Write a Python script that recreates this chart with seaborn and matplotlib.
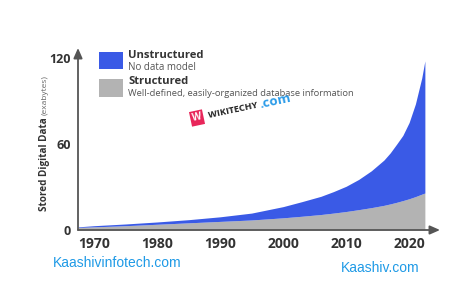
import matplotlib
matplotlib.use("Agg")
import matplotlib.pyplot as plt
from matplotlib.patches import Rectangle
import seaborn as sns
import pandas as pd

# ---- data ----
years = [1967.5, 1970, 1975, 1980, 1985, 1990, 1995, 2000, 2003, 2006,
         2008, 2010, 2012, 2014, 2016, 2017, 2018, 2019, 2020, 2021,
         2022, 2022.5]
structured = [1.8, 2.2, 3.0, 4.0, 5.0, 6.0, 7.0, 8.5, 9.6, 10.8,
              11.8, 12.9, 14.2, 15.6, 17.2, 18.2, 19.3, 20.5, 21.8, 23.3,
              25.0, 25.8]
total = [2.2, 3.0, 4.2, 5.6, 7.2, 9.2, 11.8, 16.3, 19.8, 23.5,
         26.8, 30.5, 35.3, 41.3, 48.8, 53.8, 59.8, 66.0, 75.0, 88.0,
         106.0, 118.0]
unstructured = [t - s for t, s in zip(total, structured)]
x_ticks = [1970, 1980, 1990, 2000, 2010, 2020]
y_ticks = [0, 60, 120]

df = pd.DataFrame({"year": years, "Structured": structured,
                   "Unstructured": unstructured})

BLUE = "#3a5ae6"
GRAY = "#b3b3b3"
DARK = "#333333"
AXIS = "#555555"

sns.set_theme(style="white")
plt.rcParams["font.family"] = ["Open Sans", "DejaVu Sans"]

W, H = 474, 307
fig = plt.figure(figsize=(W / 100, H / 100), dpi=100)

def fx(x):
    return x / W

def fy(y):
    return 1 - y / H

ax = fig.add_axes([fx(78), fy(230), fx(440) - fx(78), fy(48) - fy(230)])
ax.stackplot(df["year"], df["Structured"], df["Unstructured"],
             colors=[GRAY, BLUE], linewidth=0, antialiased=True)
sns.despine(ax=ax, left=True, bottom=True)
ax.set_xlim(1967.46, 2024.9)
ax.set_ylim(0, 127)
ax.set_xticks(x_ticks)
ax.set_xticklabels([str(v) for v in x_ticks], fontsize=10, fontweight="bold",
                   color=DARK)
ax.set_yticks(y_ticks)
ax.set_yticklabels([str(v) for v in y_ticks], fontsize=9, fontweight="bold",
                   color=DARK)
ax.tick_params(axis="x", length=0, pad=5)
ax.tick_params(axis="y", length=0, pad=5)
ax.grid(False)
ax.set_facecolor("none")

# axes with arrow heads
ax.annotate("", xy=(0, 1), xytext=(0, 0), xycoords="axes fraction",
            arrowprops=dict(arrowstyle="-|>,head_length=0.5,head_width=0.22",
                            color=AXIS, lw=1.3, shrinkA=0, shrinkB=0))
ax.annotate("", xy=(1, 0), xytext=(0, 0), xycoords="axes fraction",
            arrowprops=dict(arrowstyle="-|>,head_length=0.5,head_width=0.22",
                            color=AXIS, lw=1.3, shrinkA=0, shrinkB=0))

# y-axis label in two parts, second placed right after the first
t1 = fig.text(fx(45), fy(211), "Stored Digital Data", rotation=90,
              ha="center", va="bottom", fontsize=7.1, fontweight="bold",
              color=DARK)
fig.canvas.draw()
bb = t1.get_window_extent(renderer=fig.canvas.get_renderer())
top_px = bb.y1 / fig.dpi / fig.get_figheight()
fig.text(fx(45.3), top_px + 0.006, "(exabytes)", rotation=90, ha="center",
         va="bottom", fontsize=6.0, color="#666666")

# legend
fig.patches.append(Rectangle((fx(99), fy(69)), fx(24), fy(0) - fy(17),
                             transform=fig.transFigure, facecolor=BLUE,
                             edgecolor="none"))
fig.patches.append(Rectangle((fx(99), fy(97)), fx(24), fy(0) - fy(18),
                             transform=fig.transFigure, facecolor=GRAY,
                             edgecolor="none"))
fig.text(fx(128), fy(56), "Unstructured", ha="left", va="center",
         fontsize=8.1, fontweight="bold", color=DARK)
fig.text(fx(128), fy(67), "No data model", ha="left", va="center",
         fontsize=7, color="#555555")
fig.text(fx(128), fy(82), "Structured", ha="left", va="center",
         fontsize=8.1, fontweight="bold", color=DARK)
fig.text(fx(128), fy(93), "Well-defined, easily-organized database information",
         ha="left", va="center", fontsize=6.75, color="#555555")

# watermarks
fig.text(fx(197), fy(118), "W", ha="center", va="center", fontsize=7,
         fontweight="bold", color="white", rotation=12,
         bbox=dict(boxstyle="square,pad=0.2", facecolor="#e8265a",
                   edgecolor="none"))
fig.text(fx(233), fy(110), "WIKITECHY", ha="center", va="center",
         fontsize=6.6, fontweight="bold", color="#222222", rotation=12)
fig.text(fx(275), fy(101), ".com", ha="center", va="center", fontsize=9.5,
         fontweight="bold", color="#2a9be8", rotation=12)
fig.text(fx(117), fy(263), "Kaashivinfotech.com", ha="center", va="center",
         fontsize=10, color="#1f9ae6", family="Liberation Sans")
fig.text(fx(380), fy(268), "Kaashiv.com", ha="center", va="center",
         fontsize=10, color="#1f9ae6", family="Liberation Sans")

fig.savefig("out.png", dpi=100)
